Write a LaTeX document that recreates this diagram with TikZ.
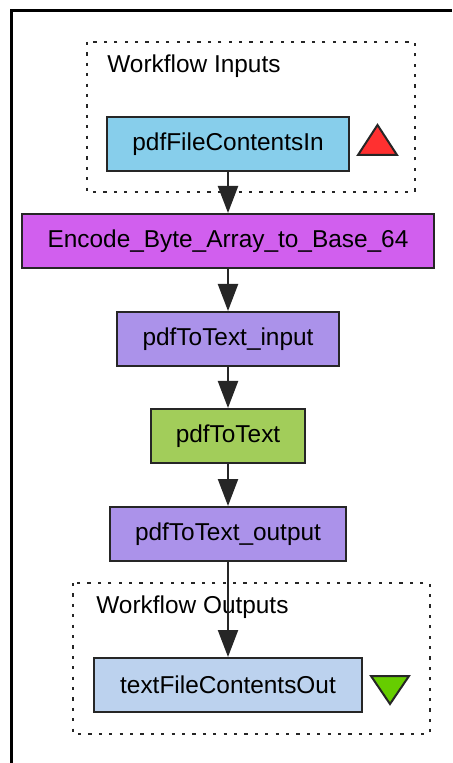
\documentclass[tikz,border=0pt]{standalone}
\usepackage{fontspec}
\setmainfont{Liberation Sans}
\usetikzlibrary{arrows.meta,positioning}
\definecolor{inpc}{HTML}{87CEEB}
\definecolor{encc}{HTML}{D15FEE}
\definecolor{portc}{HTML}{AB92EA}
\definecolor{servc}{HTML}{A2CD5A}
\definecolor{outc}{HTML}{BCD2EE}
\definecolor{upc}{HTML}{FF3030}
\definecolor{downc}{HTML}{66CD00}
\tikzset{
  proc/.style   ={draw=black!85,line width=1pt,minimum height=27pt,inner sep=0pt,
                  font=\fontsize{12.2}{14}\selectfont},
  inport/.style ={proc,fill=inpc},
  encbox/.style ={proc,fill=encc},
  portbox/.style={proc,fill=portc},
  servbox/.style={proc,fill=servc},
  outport/.style={proc,fill=outc},
  cluster/.style={line width=1.1pt,dash pattern=on 1.6pt off 3.6pt,black!85},
  clabel/.style ={anchor=west,inner sep=0pt,font=\fontsize{12.2}{14}\selectfont},
  flow/.style   ={-{Triangle[length=13.5pt,width=10pt]},line width=1.1pt,black!85},
  marker/.style ={line width=1pt,black!85},
}
\begin{document}
\begin{tikzpicture}[x=0.5pt,y=-0.5pt]
  \useasboundingbox (0,0) rectangle (452,763);
  % outer frame
  \draw[line width=1.5pt] (452,11) -- (11.5,11) -- (11.5,763);
  % input / output clusters
  \draw[cluster] (87,42) rectangle (415,192);
  \node[clabel] (inlab) at (107,66) {Workflow Inputs};
  \draw[cluster] (73,583) rectangle (430,734);
  \node[clabel] (outlab) at (96,607) {Workflow Outputs};
  % processors
  \node[inport,minimum width=121pt]  (pdfin)  at (228,144) {pdfFileContentsIn};
  \node[encbox,minimum width=206pt]  (enc)    at (228,241) {Encode\_Byte\_Array\_to\_Base\_64};
  \node[portbox,minimum width=111pt] (tin)    at (228,339) {pdfToText\_input};
  \node[servbox,minimum width=77pt]  (ptt)    at (228,436) {pdfToText};
  \node[portbox,minimum width=118pt] (tout)   at (228,534) {pdfToText\_output};
  \node[outport,minimum width=134pt] (txtout) at (228,685) {textFileContentsOut};
  % port markers
  \draw[marker,fill=upc] (358,155) -- (397,155) -- (377.5,125) -- cycle;
  \draw[marker,fill=downc] (371,676) -- (409,676) -- (390,704) -- cycle;
  % links
  \draw[flow] (pdfin) -- (enc);
  \draw[flow] (enc) -- (tin);
  \draw[flow] (tin) -- (ptt);
  \draw[flow] (ptt) -- (tout);
  \draw[flow] (tout) -- (txtout);
\end{tikzpicture}
\end{document}
